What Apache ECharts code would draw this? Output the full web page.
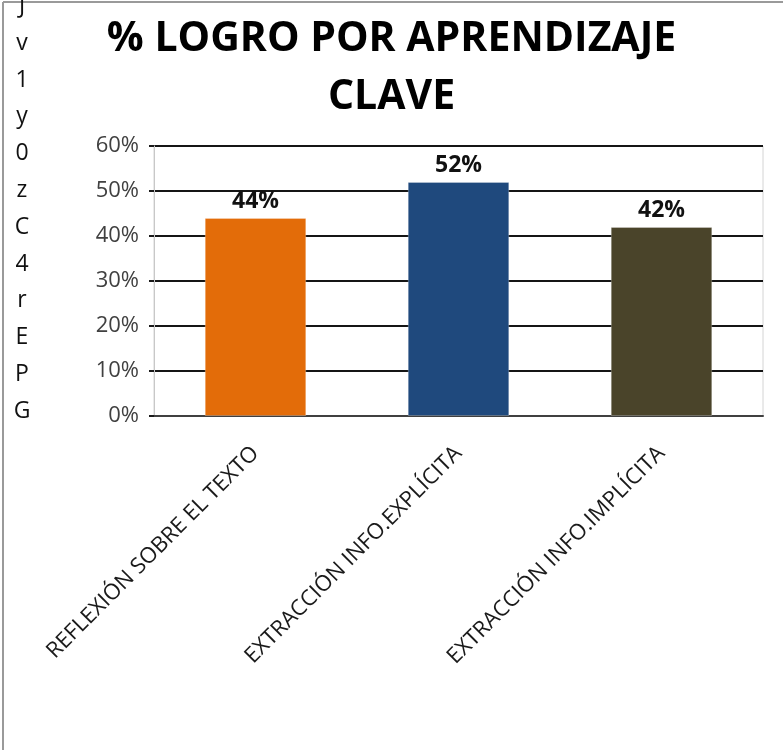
<!DOCTYPE html>
<html>
<head>
<meta charset="utf-8">
<script src="https://cdn.jsdelivr.net/npm/echarts@6/dist/echarts.min.js"></script>
<style>
  html, body { margin: 0; padding: 0; background: #ffffff; }
  #chart { width: 783px; height: 750px; }
</style>
</head>
<body>
<div id="chart"></div>
<script>
// Chart content
const titleLines = ['% LOGRO POR APRENDIZAJE', 'CLAVE'];
const categories = ['REFLEXIÓN SOBRE EL TEXTO', 'EXTRACCIÓN INFO.EXPLÍCITA', 'EXTRACCIÓN INFO.IMPLÍCITA'];
const logro = [44, 52, 42];
const barColors = ['#E36C09', '#1F497D', '#4A442A'];
const yTicks = [0, 10, 20, 30, 40, 50, 60];
const sideLetters = ['J', 'v', '1', 'y', '0', 'z', 'C', '4', 'r', 'E', 'P', 'G'];

const FONT = '"Open Sans", "Liberation Sans", sans-serif';

const chart = echarts.init(document.getElementById('chart'), null, { renderer: 'canvas' });

chart.setOption({
  backgroundColor: '#ffffff',
  animation: false,
  textStyle: { fontFamily: FONT },
  grid: {
    left: 154, right: 20, top: 146, bottom: 334,
    show: true, borderColor: '#d4d4d4', borderWidth: 1, backgroundColor: '#ffffff'
  },
  xAxis: {
    type: 'category',
    data: categories,
    axisLine: { show: true, lineStyle: { color: '#404040', width: 2 } },
    axisTick: { show: false },
    axisLabel: {
      rotate: 45, margin: 34, interval: 0,
      fontFamily: FONT, fontSize: 22, color: '#1a1a1a'
    },
    splitLine: { show: false }
  },
  yAxis: {
    type: 'value',
    min: yTicks[0], max: yTicks[yTicks.length - 1], interval: 10,
    axisLine: { show: true, lineStyle: { color: '#c8c8c8', width: 1 } },
    axisTick: { show: true, length: 5, lineStyle: { color: '#1a1a1a', width: 2 } },
    axisLabel: {
      formatter: '{value}%', margin: 15,
      fontFamily: FONT, fontSize: 22, color: '#404040'
    },
    splitLine: { show: true, lineStyle: { color: '#151515', width: 2 } }
  },
  series: [{
    type: 'bar',
    barWidth: '50%',
    data: logro.map((v, i) => ({ value: v, itemStyle: { color: barColors[i] } })),
    itemStyle: { borderColor: 'rgba(255,255,255,0.25)', borderWidth: 1 },
    label: {
      show: true, position: 'top', distance: 5,
      formatter: '{c}%',
      fontFamily: FONT, fontWeight: 'bold', fontSize: 23, color: '#111111'
    }
  }],
  graphic: [
    // frame lines along the top and left edges
    { type: 'line', shape: { x1: 3, y1: 2, x2: 783, y2: 2 }, style: { stroke: '#9a9a9a', lineWidth: 2 } },
    { type: 'line', shape: { x1: 3, y1: 2, x2: 3, y2: 750 }, style: { stroke: '#9a9a9a', lineWidth: 2 } },
    // title, two centred lines
    {
      type: 'text', left: 'center', top: 10,
      style: {
        text: titleLines.join('\n'), x: 0, y: 0,
        font: 'bold 41px ' + FONT, fill: '#000000',
        textAlign: 'center', lineHeight: 58
      }
    },
    // column of letters on the left edge
    {
      type: 'text', left: 11, top: -12,
      style: {
        text: sideLetters.join('\n'),
        font: '23px ' + FONT, fill: '#111111',
        textAlign: 'center', lineHeight: 36.8, width: 22
      }
    }
  ]
});
</script>
</body>
</html>
